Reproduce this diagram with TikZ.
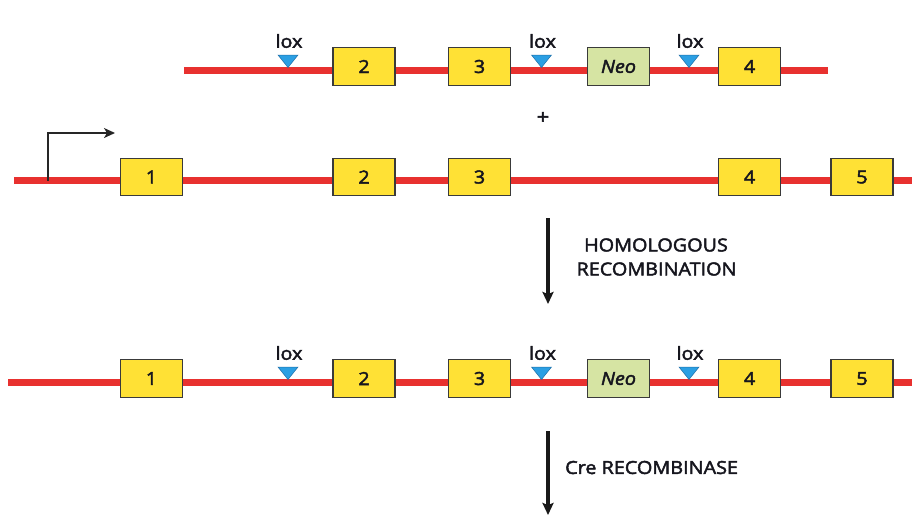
\documentclass[tikz,border=0pt]{standalone}
\usepackage{fontspec}
\setmainfont{Open Sans}[FakeStretch=1.1, FakeBold=2.5]
\usetikzlibrary{arrows.meta}
\definecolor{dnared}{HTML}{E8312F}
\definecolor{exonyellow}{HTML}{FFE135}
\definecolor{neogreen}{HTML}{D6E4A3}
\definecolor{boxgray}{HTML}{3A3A3A}
\definecolor{loxblue}{HTML}{2B9FE3}
\definecolor{loxdark}{HTML}{1F6FA8}
\definecolor{txt}{HTML}{16161E}
\newcommand\loxmark[3]{% name, x, line y
  \fill[loxblue, draw=loxdark, line width=0.5pt] (#2-10,#3-15) -- (#2+10,#3-15) -- (#2,#3-2.5) -- cycle;
  \node[loxlabel] (#1) at (#2+1,#3-29) {lox};
}
\begin{document}
\begin{tikzpicture}[x=1pt,y=-1pt,
  exon/.style={draw=boxgray, line width=1.4pt, fill=exonyellow, minimum width=62pt,
    minimum height=37.5pt, inner sep=0pt, text=txt, font=\fontsize{18}{20}\selectfont},
  neobox/.style={exon, fill=neogreen, font=\fontsize{18}{20}\selectfont\itshape},
  dna/.style={draw=dnared, line width=7pt},
  loxlabel/.style={inner sep=0pt, text=txt, font=\fontsize{18}{20}\selectfont},
  steplabel/.style={inner sep=0pt, text=txt, font=\fontsize{18}{20}\selectfont, align=center},
  downarrow/.style={draw=black!90, line width=3.2pt, -{Stealth[length=12pt,width=11pt,inset=2pt]}},
  promoter/.style={draw=black!85, line width=1.5pt, -{Stealth[length=11pt,width=10pt,inset=3pt]}}
]
\useasboundingbox (0,0) rectangle (912,515);

% ---------- Row 1: targeting construct ----------
\coordinate (r1s) at (184,70);
\coordinate (r1e) at (828,70);
\draw[dna] (r1s) -- (r1e);
\loxmark{r1lox1}{288}{70}
\loxmark{r1lox2}{541.5}{70}
\loxmark{r1lox3}{689}{70}
\node[exon] (r1b2) at (364,66.5) {2};
\node[exon] (r1b3) at (479.5,66.5) {3};
\node[neobox] (r1neo) at (618.5,66.5) {Neo};
\node[exon] (r1b4) at (749.5,66.5) {4};

\node[inner sep=0pt, text=txt, font=\fontsize{20}{22}\selectfont] (plus) at (543,118) {+};

% ---------- Row 2: wild-type gene ----------
\coordinate (r2s) at (14,180.5);
\coordinate (r2e) at (912,180.5);
\draw[dna] (r2s) -- (r2e);
\coordinate (prom) at (48,180.5);
\coordinate (promend) at (115,133);
\draw[promoter] (prom) |- (promend);
\node[exon] (r2b1) at (151.5,177) {1};
\node[exon] (r2b2) at (364,177) {2};
\node[exon] (r2b3) at (479.5,177) {3};
\node[exon] (r2b4) at (749.5,177) {4};
\node[exon] (r2b5) at (862,177) {5};

% ---------- Arrow 1 ----------
\coordinate (a1s) at (548,218);
\coordinate (a1e) at (548,304);
\draw[downarrow] (a1s) -- (a1e);
\node[steplabel] (hom1) at (656,245) {HOMOLOGOUS};
\node[steplabel] (hom2) at (656.5,269) {RECOMBINATION};

% ---------- Row 3: recombined gene ----------
\coordinate (r3s) at (8,382);
\coordinate (r3e) at (912,382);
\draw[dna] (r3s) -- (r3e);
\loxmark{r3lox1}{288}{382}
\loxmark{r3lox2}{541.5}{382}
\loxmark{r3lox3}{689}{382}
\node[exon] (r3b1) at (151.5,378.5) {1};
\node[exon] (r3b2) at (364,378.5) {2};
\node[exon] (r3b3) at (479.5,378.5) {3};
\node[neobox] (r3neo) at (618.5,378.5) {Neo};
\node[exon] (r3b4) at (749.5,378.5) {4};
\node[exon] (r3b5) at (862,378.5) {5};

% ---------- Arrow 2 ----------
\coordinate (a2s) at (548,431);
\coordinate (a2e) at (548,515);
\draw[downarrow] (a2s) -- (a2e);
\node[steplabel, anchor=west] (cre) at (565,467.5) {Cre RECOMBINASE};
\end{tikzpicture}
\end{document}
